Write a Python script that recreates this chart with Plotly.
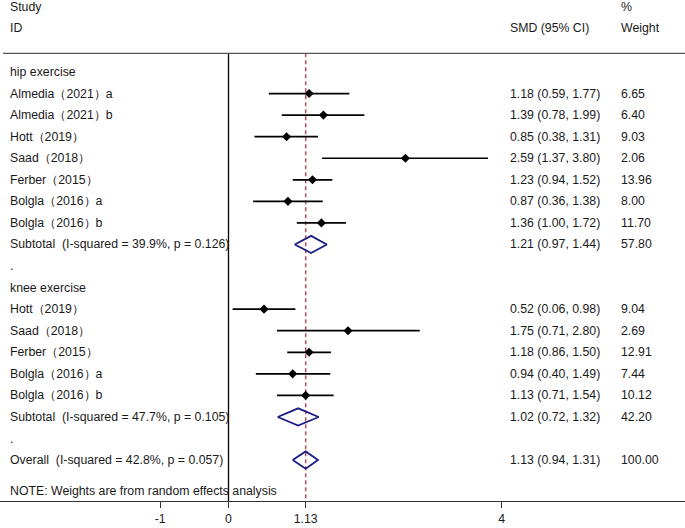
import plotly.graph_objects as go

# forest plot data (SMD with 95% CI, % weight)
labels = ["hip exercise",
          "Almedia（2021）a", "Almedia（2021）b", "Hott（2019）", "Saad（2018）",
          "Ferber（2015）", "Bolgla（2016）a", "Bolgla（2016）b",
          "Subtotal  (I-squared = 39.9%, p = 0.126)",
          ".",
          "knee exercise",
          "Hott（2019）", "Saad（2018）", "Ferber（2015）", "Bolgla（2016）a", "Bolgla（2016）b",
          "Subtotal  (I-squared = 47.7%, p = 0.105)",
          ".",
          "Overall  (I-squared = 42.8%, p = 0.057)"]
kind = ["head", "s", "s", "s", "s", "s", "s", "s", "sub", "gap",
        "head", "s", "s", "s", "s", "s", "sub", "gap", "sub"]
smd = [None, 1.18, 1.39, 0.85, 2.59, 1.23, 0.87, 1.36, 1.21, None,
       None, 0.52, 1.75, 1.18, 0.94, 1.13, 1.02, None, 1.13]
lo = [None, 0.59, 0.78, 0.38, 1.37, 0.94, 0.36, 1.00, 0.97, None,
      None, 0.06, 0.71, 0.86, 0.40, 0.71, 0.72, None, 0.94]
hi = [None, 1.77, 1.99, 1.31, 3.80, 1.52, 1.38, 1.72, 1.44, None,
      None, 0.98, 2.80, 1.50, 1.49, 1.54, 1.32, None, 1.31]
weight = [None, "6.65", "6.40", "9.03", "2.06", "13.96", "8.00", "11.70", "57.80", None,
          None, "9.04", "2.69", "12.91", "7.44", "10.12", "42.20", None, "100.00"]
overall = 1.13
tick_vals = [-1, 0, 1.13, 4]
tick_text = ["-1", "0", "1.13", "4"]

W, H = 685, 528
FONT = "Liberation Sans, Arial, sans-serif"
row_px = 21.56
top_px = 72          # pixel centre of first row
plot_h = 501         # plot area height (axis line at bottom)


def row_y(px):
    return (px - top_px) / row_px


fig = go.Figure()

# individual studies
st = [i for i, k in enumerate(kind) if k == "s"]
fig.add_trace(go.Scatter(
    x=[smd[i] for i in st], y=st, mode="markers",
    marker=dict(symbol="diamond", size=7, color="black"),
    error_x=dict(type="data", symmetric=False,
                 array=[hi[i] - smd[i] for i in st],
                 arrayminus=[smd[i] - lo[i] for i in st],
                 color="black", thickness=1.7, width=0),
    hoverinfo="skip"))

# pooled diamonds
h = 0.4
for i, k in enumerate(kind):
    if k == "sub":
        fig.add_trace(go.Scatter(
            x=[lo[i], smd[i], hi[i], smd[i], lo[i]],
            y=[i, i - h, i, i + h, i], mode="lines",
            line=dict(color="#1c1c86", width=1.8), hoverinfo="skip"))

y_head_line = row_y(53.3)
# null line and overall line
fig.add_shape(type="line", x0=0, x1=0, y0=y_head_line, y1=row_y(plot_h),
              line=dict(color="black", width=1.3), layer="below")
fig.add_shape(type="line", x0=overall, x1=overall, y0=y_head_line, y1=row_y(plot_h),
              line=dict(color="#a9525c", width=1.5, dash="4px,3px"), layer="below")
# header rule
fig.add_shape(type="line", xref="paper", x0=3 / W, x1=1, y0=y_head_line, y1=y_head_line,
              line=dict(color="#555555", width=1.3))

# text columns
def txt(xpx, y, s, size=12.3):
    fig.add_annotation(xref="paper", x=xpx / W, y=y, text=s, showarrow=False,
                       xanchor="left", yanchor="middle",
                       font=dict(family=FONT, size=size, color="#1a1a1a"))


txt(8, row_y(7), "Study")
txt(8, row_y(28), "ID")
txt(508, row_y(28), "SMD (95% CI)")
txt(619, row_y(7), "%")
txt(619, row_y(28), "Weight")

for i, lab in enumerate(labels):
    txt(8, i, lab.replace("  ", " \u00a0"))
    if smd[i] is not None:
        txt(508, i, f"{smd[i]:.2f} ({lo[i]:.2f}, {hi[i]:.2f})")
        txt(619, i, weight[i])

txt(8, row_y(491), "NOTE: Weights are from random effects analysis")

x0 = -228.5 / 68.3
x1 = (W - 228.5) / 68.3
fig.update_layout(
    width=W, height=H, showlegend=False,
    margin=dict(l=0, r=0, t=0, b=H - plot_h),
    plot_bgcolor="white", paper_bgcolor="white",
    xaxis=dict(range=[x0, x1], tickvals=tick_vals, ticktext=tick_text,
               showgrid=False, zeroline=False, showline=True, linecolor="#333333",
               linewidth=1.3, ticks="outside", ticklen=6, tickcolor="#333333",
               tickfont=dict(family=FONT, size=12.3, color="#1a1a1a")),
    yaxis=dict(range=[row_y(plot_h), row_y(0)], visible=False),
)

fig.write_html("out.html", config={"displayModeBar": False},
               post_script="document.body.style.margin='0';document.body.style.overflow='hidden';")
